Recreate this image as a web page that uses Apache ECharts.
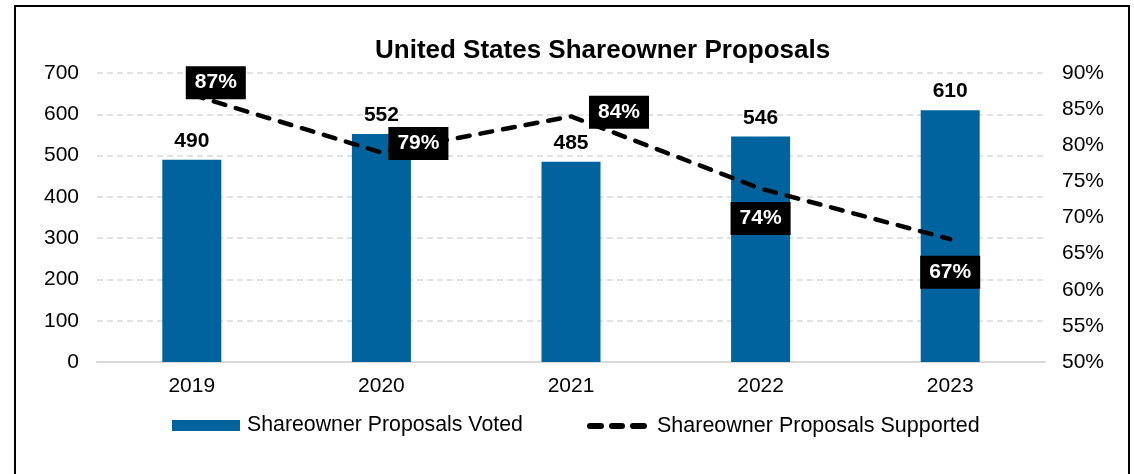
<!DOCTYPE html>
<html>
<head>
<meta charset="utf-8">
<script src="https://cdn.jsdelivr.net/npm/echarts@6/dist/echarts.min.js"></script>
<style>
  html, body { margin: 0; padding: 0; background: #ffffff; }
  #chart { width: 1134px; height: 474px; }
</style>
</head>
<body>
<div id="chart"></div>
<script>
// Chart data
const years = ['2019', '2020', '2021', '2022', '2023'];
const proposalsVoted = [490, 552, 485, 546, 610];
const proposalsSupported = [87, 79, 84, 74, 67];
// Label offsets (px) for the support-rate labels, relative to each point
const supportLabelOffsets = [[24, -12], [37, -9], [48, -4], [0, 30], [0, 33]];

const FONT = '"Liberation Sans", Arial, sans-serif';
const FS = 21;
const BAR_COLOR = '#00639e';
// Legend glyph for the dashed line: three rounded dashes
const DASH_ICON = 'path://M3,0 h11 a3,3 0 0 1 0,6 h-11 a3,3 0 0 1 0,-6 z' +
                  'M25,0 h10 a3,3 0 0 1 0,6 h-10 a3,3 0 0 1 0,-6 z' +
                  'M46,0 h11 a3,3 0 0 1 0,6 h-11 a3,3 0 0 1 0,-6 z';

const chart = echarts.init(document.getElementById('chart'), null, { renderer: 'canvas' });

chart.setOption({
  backgroundColor: '#ffffff',
  animation: false,
  textStyle: { fontFamily: FONT },
  graphic: [{
    type: 'rect',
    shape: { x: 15, y: 6, width: 1114, height: 480 },
    style: { fill: 'none', stroke: '#000000', lineWidth: 2 },
    silent: true
  }],
  title: {
    text: 'United States Shareowner Proposals',
    left: 375,
    top: 38,
    padding: 0,
    textStyle: { fontFamily: FONT, fontSize: 26, fontWeight: 'bold', color: '#000000' }
  },
  grid: { left: 97, right: 89, top: 73, bottom: 112 },
  legend: [{
    top: 415,
    left: 172,
    padding: 0,
    itemWidth: 68,
    itemHeight: 11,
    textStyle: { fontFamily: FONT, fontSize: 21.3, color: '#000000', padding: [0, 0, 0, 2] },
    data: [{ name: 'Shareowner Proposals Voted', icon: 'rect', itemStyle: { color: BAR_COLOR } }]
  }, {
    top: 415,
    left: 587,
    padding: 0,
    itemWidth: 60,
    itemHeight: 6,
    textStyle: { fontFamily: FONT, fontSize: 21.5, color: '#000000', padding: [0, 0, 0, 5] },
    data: [{ name: 'Shareowner Proposals Supported', icon: DASH_ICON, itemStyle: { color: '#000000' } }]
  }],
  xAxis: {
    type: 'category',
    data: years,
    axisTick: { show: false },
    axisLine: { lineStyle: { color: '#d9d9d9', width: 2 } },
    axisLabel: { fontFamily: FONT, fontSize: FS, color: '#000000', margin: 14 }
  },
  yAxis: [{
    type: 'value',
    min: 0,
    max: 700,
    interval: 100,
    axisLine: { show: false },
    axisTick: { show: false },
    axisLabel: { fontFamily: FONT, fontSize: FS, color: '#000000', margin: 18 },
    splitLine: { lineStyle: { color: '#d9d9d9', type: [6, 4], width: 1.5 } }
  }, {
    type: 'value',
    min: 50,
    max: 90,
    interval: 5,
    axisLine: { show: false },
    axisTick: { show: false },
    axisLabel: { fontFamily: FONT, fontSize: FS, color: '#000000', margin: 17, formatter: '{value}%' },
    splitLine: { show: false }
  }],
  series: [{
    name: 'Shareowner Proposals Voted',
    type: 'bar',
    data: proposalsVoted,
    yAxisIndex: 0,
    barWidth: 59,
    itemStyle: { color: BAR_COLOR },
    label: {
      show: true,
      position: 'top',
      distance: 8,
      fontFamily: FONT,
      fontSize: FS,
      fontWeight: 'bold',
      color: '#000000'
    }
  }, {
    name: 'Shareowner Proposals Supported',
    type: 'line',
    yAxisIndex: 1,
    symbol: 'circle',
    symbolSize: 1,
    showSymbol: true,
    itemStyle: { color: 'transparent', borderWidth: 0 },
    lineStyle: { color: '#000000', width: 4.5, type: [12, 11], cap: 'round' },
    data: proposalsSupported.map((v, i) => ({
      value: v,
      label: { offset: supportLabelOffsets[i] }
    })),
    label: {
      show: true,
      position: 'inside',
      formatter: '{c}%',
      backgroundColor: '#000000',
      color: '#ffffff',
      fontFamily: FONT,
      fontSize: FS,
      fontWeight: 'bold',
      padding: [6, 9, 6, 9]
    },
    z: 5
  }]
});
</script>
</body>
</html>
